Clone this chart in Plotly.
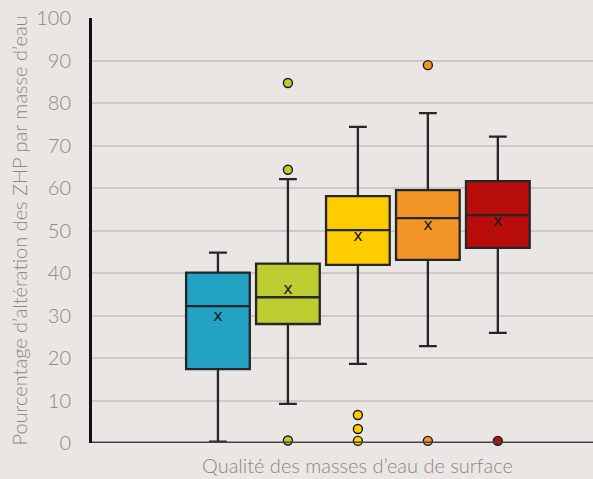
import plotly.graph_objects as go

positions = [0, 1, 2, 3, 4]
colors = ["#22A3C4", "#BDCD2F", "#FFCC00", "#F39427", "#B80D0B"]
lower_fence = [0.3, 9.2, 18.6, 22.8, 25.9]
q1 = [17.4, 28.0, 41.9, 43.1, 45.9]
median = [32.2, 34.3, 50.1, 52.9, 53.6]
q3 = [40.1, 42.2, 58.1, 59.5, 61.6]
upper_fence = [44.8, 62.1, 74.4, 77.6, 72.1]
mean = [29.6, 36.0, 48.4, 51.0, 51.9]
outliers = [
    [],
    [84.7, 64.3, 0.6],
    [6.6, 3.3, 0.5],
    [88.9, 0.5],
    [0.5],
]
y_ticks = [0, 10, 20, 30, 40, 50, 60, 70, 80, 90, 100]
x_title = "Qualité des masses d’eau de surface"
y_title = "Pourcentage d’altération des ZHP par masse d’eau"

FONT = "Lato, Open Sans, sans-serif"
GREY = "#8C8882"
BG = "#E9E6E3"

fig = go.Figure()
for i, p in enumerate(positions):
    fig.add_trace(go.Box(
        x=[p], q1=[q1[i]], median=[median[i]], q3=[q3[i]],
        lowerfence=[lower_fence[i]], upperfence=[upper_fence[i]],
        fillcolor=colors[i], line=dict(color="#262626", width=2.3),
        width=0.91, whiskerwidth=0.28, boxpoints=False, showlegend=False,
        hoverinfo="skip",
    ))
    if outliers[i]:
        fig.add_trace(go.Scatter(
            x=[p] * len(outliers[i]), y=outliers[i], mode="markers",
            marker=dict(size=9, color=colors[i], line=dict(color="#1A1A1A", width=1.4)),
            cliponaxis=False, showlegend=False, hoverinfo="skip",
        ))
fig.add_trace(go.Scatter(
    x=positions, y=mean, mode="text", text=["x"] * len(mean),
    textfont=dict(family="DejaVu Sans, sans-serif", size=16, color="#1A1A1A"),
    textposition="middle center", showlegend=False, hoverinfo="skip",
))

fig.add_annotation(
    x=2, xref="x", y=0, yref="paper", yanchor="top", yshift=-8,
    text=x_title, showarrow=False,
    font=dict(family=FONT, size=20, color=GREY, weight=300),
)

fig.update_layout(
    width=593, height=479,
    margin=dict(l=92, r=0, t=18, b=36),
    paper_bgcolor=BG, plot_bgcolor=BG,
    font=dict(family=FONT, color=GREY),
    xaxis=dict(range=[-1.8, 5.36], showticklabels=False, showgrid=False,
               zeroline=False, showline=False, fixedrange=True),
    yaxis=dict(range=[0, 100], tickvals=y_ticks, showgrid=True,
               gridcolor="#CCC9C6", gridwidth=1.5, zeroline=False,
               showline=True, linecolor="#111111", linewidth=3,
               ticks="", ticklabelstandoff=14,
               tickfont=dict(family=FONT, size=20, color=GREY, weight=300),
               title=dict(text=y_title,
                          font=dict(family=FONT, size=20, color=GREY, weight=300),
                          standoff=4)),
)
fig.add_shape(type="line", xref="paper", yref="y", x0=0, x1=1, y0=0, y1=0,
              line=dict(color="#444444", width=3))

fig.write_html(
    "out.html",
    config={"displayModeBar": False},
    post_script="document.body.style.margin='0';document.body.style.background='" + BG + "';",
)
